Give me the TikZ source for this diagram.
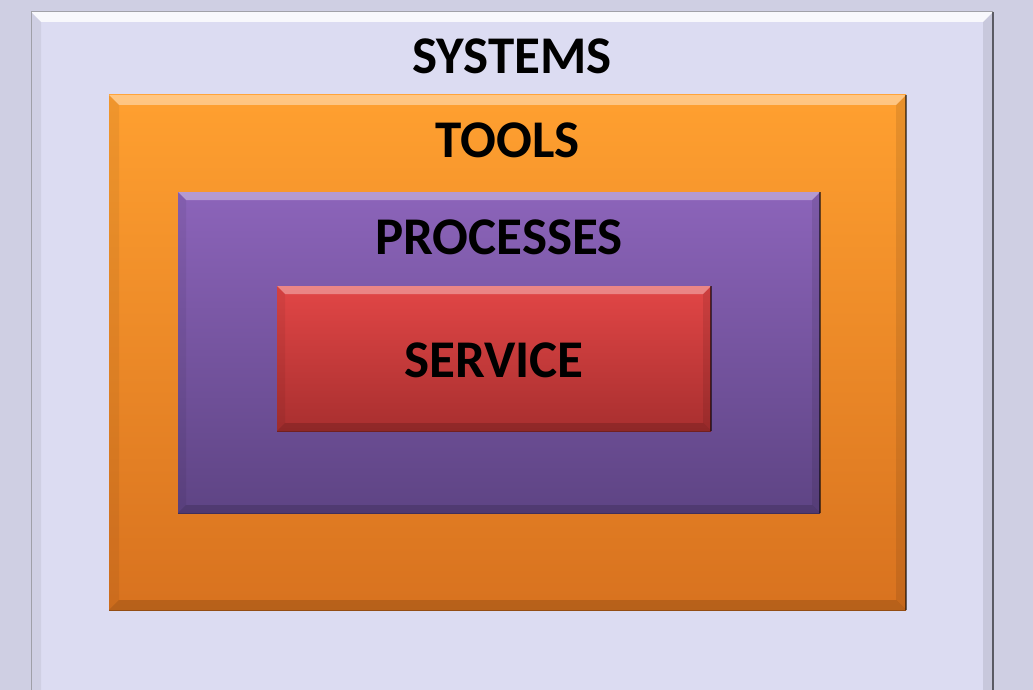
\documentclass[tikz,border=0pt]{standalone}
\usepackage{fontspec}
\setmainfont{Carlito}
\definecolor{pagebg}{HTML}{CFCFE3}
\definecolor{sysfill}{HTML}{DCDCF2}
\definecolor{tooltop}{HTML}{FFA030}
\definecolor{toolbot}{HTML}{D8721F}
\definecolor{proctop}{HTML}{8C64BA}
\definecolor{procbot}{HTML}{5E4484}
\definecolor{servtop}{HTML}{E24646}
\definecolor{servbot}{HTML}{A82F2F}
\tikzset{
  layer/.style={draw=none, inner sep=0pt, outer sep=0pt},
  layerlabel/.style={font=\fontsize{53}{64}\selectfont\bfseries, text=black, inner sep=0pt, anchor=center},
}
% bevelled edges of a rectangular node: #1 node, #2 bevel width, #3 highlight strength
\newcommand\bevelrim[3]{%
  \fill[white,opacity=#3] (#1.north west) -- (#1.north east)
     -- ([shift={(-#2,#2)}]#1.north east) -- ([shift={(#2,#2)}]#1.north west) -- cycle;
  \fill[black,opacity=.15] (#1.south west) -- (#1.south east)
     -- ([shift={(-#2,-#2)}]#1.south east) -- ([shift={(#2,-#2)}]#1.south west) -- cycle;
  \fill[black,opacity=.06] (#1.north west) -- ([shift={(#2,#2)}]#1.north west)
     -- ([shift={(#2,-#2)}]#1.south west) -- (#1.south west) -- cycle;
  \fill[black,opacity=.09] (#1.north east) -- ([shift={(-#2,#2)}]#1.north east)
     -- ([shift={(-#2,-#2)}]#1.south east) -- (#1.south east) -- cycle;
  \draw[black,opacity=.55,line width=1.2pt] (#1.north east) -- (#1.south east);
  \draw[black,opacity=.3,line width=1pt] (#1.south west) -- (#1.south east);
}
\begin{document}
\begin{tikzpicture}[x=1pt,y=-1pt]
  \useasboundingbox (0,0) rectangle (1033,690);
  \clip (0,0) rectangle (1033,690);
  \fill[pagebg] (0,0) rectangle (1033,690);

  % nested layers
  \node[layer, fill=sysfill, minimum width=962pt, minimum height=690pt] (systems) at (512,357) {};
  \bevelrim{systems}{10}{.8}
  \draw[gray,opacity=.6,line width=1pt] (systems.north west) -- (systems.north east);
  \draw[gray,opacity=.6,line width=1pt] (systems.north west) -- (systems.south west);

  \node[layer, top color=tooltop, bottom color=toolbot, minimum width=797pt, minimum height=515pt] (tools) at (507.5,352.5) {};
  \bevelrim{tools}{10}{.4}

  \node[layer, top color=proctop, bottom color=procbot, minimum width=642pt, minimum height=321pt] (processes) at (499,352.5) {};
  \bevelrim{processes}{8}{.35}

  \node[layer, top color=servtop, bottom color=servbot, minimum width=434pt, minimum height=145pt] (service) at (494,358.5) {};
  \bevelrim{service}{8}{.35}

  % labels (yshift is in page units, so negative moves down)
  \node[layerlabel] (systemslabel) at ([yshift=-44pt]systems.north) {SYSTEMS};
  \node[layerlabel] (toolslabel) at ([yshift=-45pt]tools.north) {TOOLS};
  \node[layerlabel] (processeslabel) at ([yshift=-45pt]processes.north) {PROCESSES};
  \node[layerlabel] (servicelabel) at ([yshift=-1.5pt]service.center) {SERVICE};
\end{tikzpicture}
\end{document}
